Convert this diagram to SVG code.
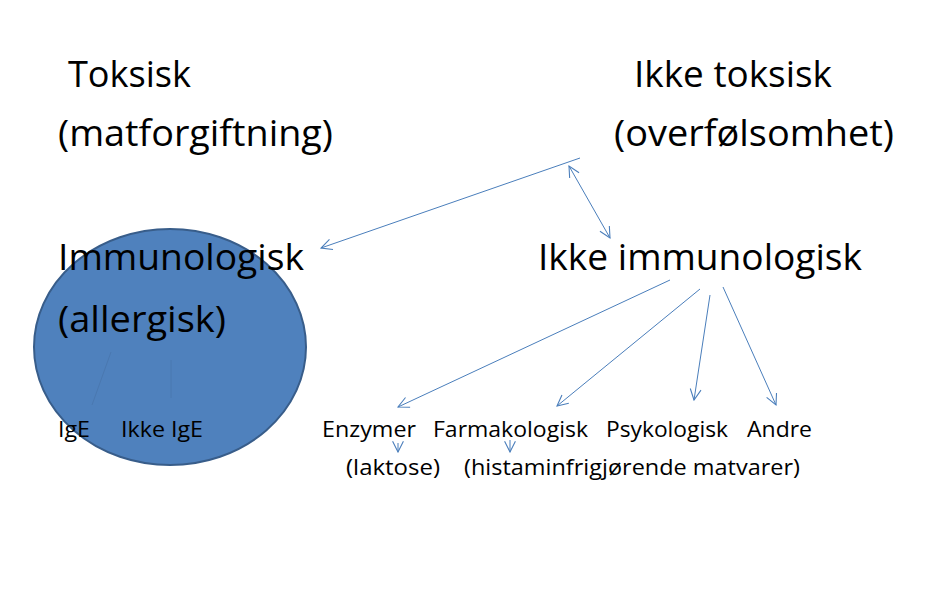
<svg xmlns="http://www.w3.org/2000/svg" width="946" height="593" viewBox="0 0 946 593">
<defs>
<style>
.big{font-family:"Open Sans","Liberation Sans",sans-serif;font-size:37px;fill:#000}
.sm{font-family:"Open Sans","Liberation Sans",sans-serif;font-size:22px;fill:#000}
.con{stroke:#4a7ebb;stroke-width:1;fill:none}
.faint{stroke:#4a78b0;stroke-width:1;fill:none}
</style>
<marker id="ah" viewBox="0 0 12 12" refX="11" refY="6" markerWidth="13" markerHeight="13" markerUnits="userSpaceOnUse" orient="auto-start-reverse">
<path d="M1,1 L11,6 L1,11" fill="none" stroke="#4a7ebb" stroke-width="1"/>
</marker>
</defs>
<rect width="946" height="593" fill="#fff"/>
<g id="allergy-ellipse">
<ellipse cx="170" cy="347" rx="136" ry="118" fill="#4f81bd" stroke="#385d8a" stroke-width="2"/>
</g>
<g id="connectors">
<line class="con" x1="580" y1="158" x2="321" y2="248" marker-end="url(#ah)"/>
<line class="con" x1="569" y1="166" x2="610" y2="238" marker-start="url(#ah)" marker-end="url(#ah)"/>
<line class="con" x1="670" y1="280" x2="398" y2="407" marker-end="url(#ah)"/>
<line class="con" x1="700" y1="289" x2="557" y2="406" marker-end="url(#ah)"/>
<line class="con" x1="710" y1="295" x2="694" y2="400" marker-end="url(#ah)"/>
<line class="con" x1="723" y1="287" x2="776" y2="405" marker-end="url(#ah)"/>
<line class="con" x1="398" y1="443" x2="398" y2="452" marker-end="url(#ah)"/>
<line class="con" x1="510" y1="440" x2="510" y2="452" marker-end="url(#ah)"/>
<line class="faint" x1="111" y1="352" x2="92" y2="405"/>
<line class="faint" x1="171" y1="360" x2="171" y2="398"/>
</g>
<g id="toksisk"><text class="big" x="68" y="87" textLength="123" lengthAdjust="spacingAndGlyphs">Toksisk</text>
<text class="big" x="58" y="146" textLength="275" lengthAdjust="spacingAndGlyphs">(matforgiftning)</text></g>
<g id="ikke-toksisk"><text class="big" x="634" y="87" textLength="198" lengthAdjust="spacingAndGlyphs">Ikke toksisk</text>
<text class="big" x="614" y="146" textLength="280" lengthAdjust="spacingAndGlyphs">(overfølsomhet)</text></g>
<g id="immunologisk"><text class="big" x="58" y="270" textLength="246" lengthAdjust="spacingAndGlyphs">Immunologisk</text>
<text class="big" x="58" y="332" textLength="168" lengthAdjust="spacingAndGlyphs">(allergisk)</text></g>
<g id="ikke-immunologisk"><text class="big" x="538" y="270" textLength="324" lengthAdjust="spacingAndGlyphs">Ikke immunologisk</text></g>
<g id="ige"><text class="sm" x="58" y="437" textLength="32" lengthAdjust="spacingAndGlyphs">IgE</text></g>
<g id="ikke-ige"><text class="sm" x="121" y="437" textLength="82" lengthAdjust="spacingAndGlyphs">Ikke IgE</text></g>
<g id="enzymer"><text class="sm" x="322" y="437" textLength="94" lengthAdjust="spacingAndGlyphs">Enzymer</text></g>
<g id="farmakologisk"><text class="sm" x="433" y="437" textLength="155" lengthAdjust="spacingAndGlyphs">Farmakologisk</text></g>
<g id="psykologisk"><text class="sm" x="606" y="437" textLength="122" lengthAdjust="spacingAndGlyphs">Psykologisk</text></g>
<g id="andre"><text class="sm" x="747" y="437" textLength="65" lengthAdjust="spacingAndGlyphs">Andre</text></g>
<g id="laktose"><text class="sm" x="346" y="475" textLength="94" lengthAdjust="spacingAndGlyphs">(laktose)</text></g>
<g id="histamin"><text class="sm" x="464" y="475" textLength="336" lengthAdjust="spacingAndGlyphs">(histaminfrigjørende matvarer)</text></g>
</svg>
